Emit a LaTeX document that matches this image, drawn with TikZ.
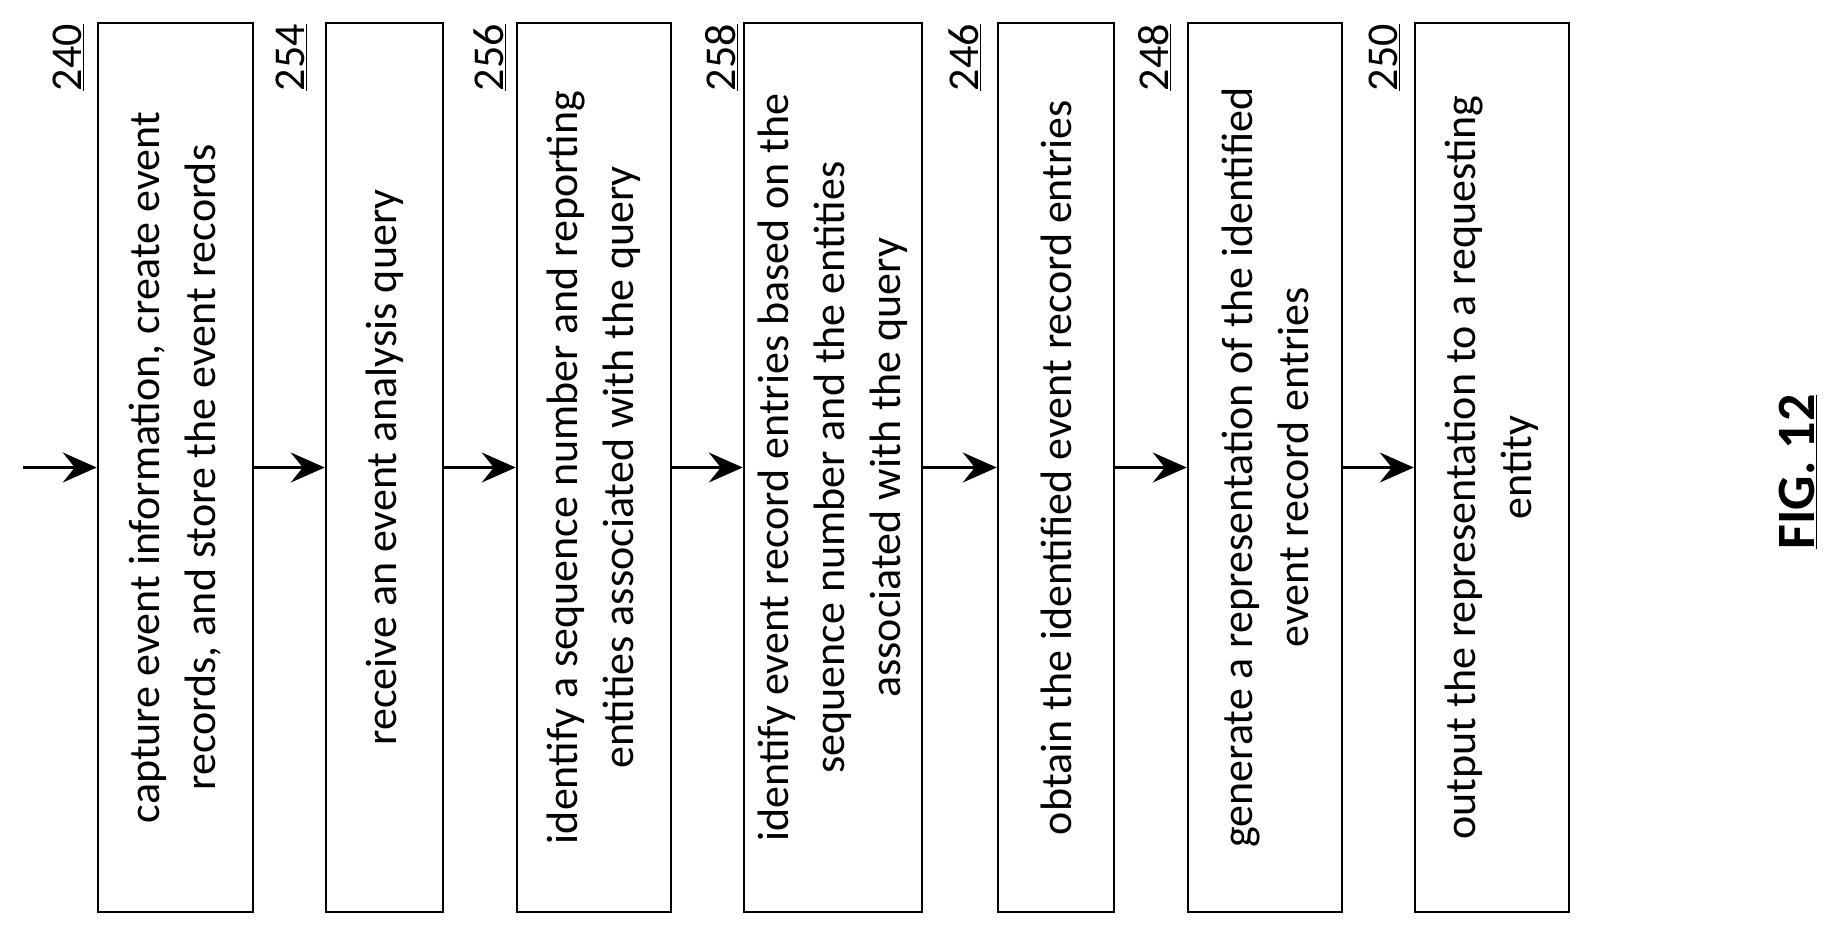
\documentclass[tikz,border=0pt]{standalone}
\usepackage{fontspec}
\setmainfont{Carlito}
\usetikzlibrary{arrows.meta}
\begin{document}
\begin{tikzpicture}[x=1pt,y=-1pt,
 box/.style={draw,line width=2.5pt,rotate=90,minimum width=889pt,align=center,font=\fontsize{44}{56}\selectfont,inner sep=0pt},
 lab/.style={rotate=90,font=\fontsize{44}{50}\selectfont,anchor=south east,inner sep=0pt},
 arr/.style={line width=2.5pt,-{Stealth[length=34pt,width=30pt,inset=12pt]}}]
\useasboundingbox (0,0) rectangle (1835,946);
\node[box,minimum height=155pt] (b1) at (175.5,467.5) {capture event information, create event\\records, and store the event records};
\node[box,minimum height=117pt] (b2) at (384.5,467.5) {receive an event analysis query};
\node[box,minimum height=154pt] (b3) at (594,467.5) {identify a sequence number and reporting\\entities associated with the query};
\node[box,minimum height=178pt] (b4) at (833,467.5) {identify event record entries based on the\\sequence number and the entities\\associated with the query};
\node[box,minimum height=116pt] (b5) at (1056,467.5) {obtain the identified event record entries};
\node[box,minimum height=154pt] (b6) at (1265,467.5) {generate a representation of the identified\\event record entries};
\node[box,minimum height=154pt] (b7) at (1492,467.5) {output the representation to a requesting\\entity};
\node[lab] (l1) at (84,24) {\underline{240}};
\node[lab] (l2) at (307,24) {\underline{254}};
\node[lab] (l3) at (506,24) {\underline{256}};
\node[lab] (l4) at (738,24) {\underline{258}};
\node[lab] (l5) at (981,24) {\underline{246}};
\node[lab] (l6) at (1171,24) {\underline{248}};
\node[lab] (l7) at (1400,24) {\underline{250}};
\node[rotate=90,font=\bfseries\fontsize{54}{60}\selectfont] (fig) at (1798,472) {\underline{FIG. 12}};
\coordinate (s) at (23,467.5);
\draw[arr] (s) -- (b1.north);
\draw[arr] (b1.south) -- (b2.north);
\draw[arr] (b2.south) -- (b3.north);
\draw[arr] (b3.south) -- (b4.north);
\draw[arr] (b4.south) -- (b5.north);
\draw[arr] (b5.south) -- (b6.north);
\draw[arr] (b6.south) -- (b7.north);
\end{tikzpicture}
\end{document}
